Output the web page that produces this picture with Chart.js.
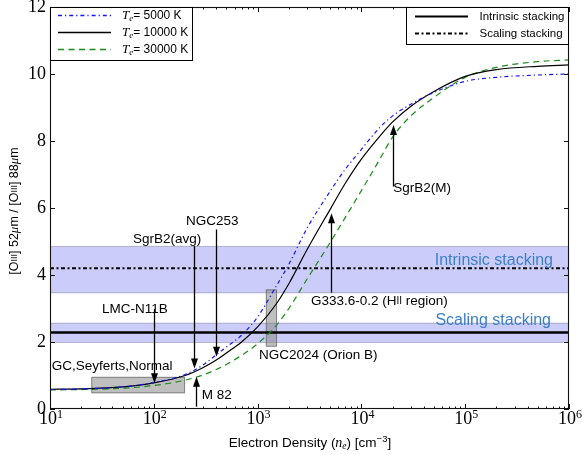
<!DOCTYPE html>
<html>
<head>
<meta charset="utf-8">
<script src="https://cdn.jsdelivr.net/npm/chart.js@4.4.0/dist/chart.umd.min.js"></script>
<style>
  html, body { margin: 0; padding: 0; background: #fff; }
  #wrap { width: 582px; height: 455px; }
</style>
</head>
<body>
<div id="wrap"><canvas id="chart" width="582" height="455"></canvas></div>
<script>
// Electron density grid (cm^-3) for the model curves
const density     = [10, 20, 50, 100, 200, 300, 400, 500, 700, 1000, 1500, 2000, 3000, 5000, 7000, 1e4, 1.5e4, 2e4, 3e4, 5e4, 1e5, 2e5, 5e5, 1e6];
// [OIII] 52/88 line ratio for three electron temperatures
const ratioT5000  = [0.58, 0.60, 0.66, 0.79, 1.03, 1.32, 1.62, 1.85, 2.20, 2.75, 3.65, 4.32, 5.40, 6.50, 7.16, 7.75, 8.40, 8.75, 9.10, 9.45, 9.78, 9.90, 9.97, 10.00];
const ratioT10000 = [0.59, 0.60, 0.66, 0.78, 1.00, 1.24, 1.46, 1.67, 2.00, 2.45, 3.12, 3.74, 4.76, 5.96, 6.74, 7.46, 8.14, 8.57, 9.04, 9.48, 9.93, 10.13, 10.23, 10.27];
const ratioT30000 = [0.57, 0.58, 0.62, 0.70, 0.86, 1.02, 1.18, 1.33, 1.60, 1.95, 2.48, 3.00, 3.88, 4.97, 5.72, 6.52, 7.45, 8.12, 8.75, 9.30, 9.90, 10.20, 10.37, 10.42];
const curveLabels = ['5000 K', '10000 K', '30000 K'];

// stacked measurements: line level and band limits
const stackNames = ['Intrinsic stacking', 'Scaling stacking'];
const stackLevel = [4.20, 2.28];
const stackLow   = [3.45, 1.97];
const stackHigh  = [4.87, 2.58];

// shaded source ranges
const boxNames   = ['GC,Seyferts,Normal', 'NGC2024 (Orion B)'];
const boxDensLo  = [25, 1200];
const boxDensHi  = [200, 1540];
const boxRatioLo = [0.47, 1.86];
const boxRatioHi = [0.96, 3.57];

// individual sources marked with arrows
const arrowNames   = ['LMC-N11B', 'SgrB2(avg)', 'NGC253', 'M 82', 'G333.6-0.2 (HII region)', 'SgrB2(M)'];
const arrowDensity = [100, 245, 400, 254, 5090, 20300];
const arrowFrom    = [2.98, 4.87, 5.36, 0.07, 3.47, 6.64];
const arrowTo      = [0.77, 1.21, 1.56, 0.96, 5.84, 8.48];

const xTicks = [10, 100, 1000, 1e4, 1e5, 1e6];
const yTicks = [0, 2, 4, 6, 8, 10, 12];

const sans = s => s + 'px "Liberation Sans", Arial, sans-serif';
const serif = s => s + 'px "Liberation Serif", "Times New Roman", serif';
const iserif = s => 'italic ' + serif(s);

const curveColors = ['#1414ff', '#000000', '#1a8a1a'];
const curveDashes = [[4, 3, 1.2, 3], [], [6, 4.5]];
const bandFill = 'rgba(0, 0, 235, 0.2)';
const bandText = '#3c80c6';

function drawRich(ctx, parts, x, y, align) {
  let w = 0;
  parts.forEach(p => { ctx.font = p[1]; w += ctx.measureText(p[0]).width; });
  let cx = align === 'center' ? x - w / 2 : align === 'right' ? x - w : x;
  ctx.textAlign = 'left';
  ctx.textBaseline = 'middle';
  parts.forEach(p => {
    ctx.font = p[1];
    ctx.fillText(p[0], cx, y + (p[2] || 0));
    cx += ctx.measureText(p[0]).width;
  });
}

function arrowHead(ctx, x, y, dir) {
  // dir: +1 pointing down, -1 pointing up
  ctx.beginPath();
  ctx.moveTo(x, y);
  ctx.lineTo(x - 3.5, y - dir * 10);
  ctx.lineTo(x + 3.5, y - dir * 10);
  ctx.closePath();
  ctx.fill();
}

// bands and gray boxes under the curves
const underlay = {
  id: 'underlay',
  beforeDatasetsDraw(chart) {
    const { ctx, chartArea: a, scales: { x, y } } = chart;
    ctx.save();
    ctx.beginPath();
    ctx.rect(a.left, a.top, a.right - a.left, a.bottom - a.top);
    ctx.clip();
    stackLevel.forEach((v, i) => {
      const y1 = y.getPixelForValue(stackHigh[i]);
      const y2 = y.getPixelForValue(stackLow[i]);
      ctx.fillStyle = bandFill;
      ctx.fillRect(a.left, y1, a.right - a.left, y2 - y1);
      ctx.strokeStyle = 'rgba(150,150,150,0.45)';
      ctx.lineWidth = 1;
      ctx.beginPath();
      ctx.moveTo(a.left, Math.round(y1) + 0.5); ctx.lineTo(a.right, Math.round(y1) + 0.5);
      ctx.moveTo(a.left, Math.round(y2) - 0.5); ctx.lineTo(a.right, Math.round(y2) - 0.5);
      ctx.stroke();
    });
    boxNames.forEach((n, i) => {
      const x1 = x.getPixelForValue(boxDensLo[i]);
      const x2 = x.getPixelForValue(boxDensHi[i]);
      const y1 = y.getPixelForValue(boxRatioHi[i]);
      const y2 = y.getPixelForValue(boxRatioLo[i]);
      ctx.fillStyle = 'rgba(128,128,128,0.5)';
      ctx.fillRect(x1, y1, x2 - x1, y2 - y1);
      ctx.strokeStyle = 'rgba(90,90,90,0.6)';
      ctx.strokeRect(x1 + 0.5, y1 + 0.5, x2 - x1 - 1, y2 - y1 - 1);
    });
    ctx.restore();
  }
};

// text anchors (data coords) for the annotation labels
const arrowTextPos = [
  { x: 100, y: 2.98, align: 'center', dx: -19 },
  { x: 245, y: 5.07, align: 'center', dx: -27 },
  { x: 400, y: 5.61, align: 'center', dx: -4 },
  { x: 254, y: 0.42, align: 'left', dx: 6 },
  { x: 5090, y: 3.22, align: 'left', dx: -20 },
  { x: 20300, y: 6.60, align: 'left', dx: 0 }
];

const overlay = {
  id: 'overlay',
  afterDraw(chart) {
    const { ctx, chartArea: a, scales: { x, y } } = chart;
    ctx.save();

    // arrows
    ctx.strokeStyle = '#000';
    ctx.fillStyle = '#000';
    ctx.lineWidth = 1.3;
    arrowNames.forEach((n, i) => {
      const px = Math.round(x.getPixelForValue(arrowDensity[i])) + 0.5;
      const y0 = y.getPixelForValue(arrowFrom[i]);
      const y1 = y.getPixelForValue(arrowTo[i]);
      const dir = y1 > y0 ? 1 : -1;
      ctx.beginPath();
      ctx.moveTo(px, y0);
      ctx.lineTo(px, y1 - dir * 9);
      ctx.stroke();
      arrowHead(ctx, px, y1, dir);
    });

    // annotation labels
    ctx.fillStyle = '#000';
    arrowNames.forEach((n, i) => {
      const t = arrowTextPos[i];
      const tx = x.getPixelForValue(t.x) + t.dx;
      const ty = y.getPixelForValue(t.y);
      if (i === 4) {
        drawRich(ctx, [['G333.6-0.2 (H', sans(13.5)], ['II', sans(10)], [' region)', sans(13.5)]], tx, ty, 'left');
      } else {
        drawRich(ctx, [[n, sans(13.5)]], tx, ty, t.align);
      }
    });
    drawRich(ctx, [[boxNames[0], sans(13.5)]], x.getPixelForValue(10.4), y.getPixelForValue(1.28), 'left');
    drawRich(ctx, [[boxNames[1], sans(13.5)]], x.getPixelForValue(1030), y.getPixelForValue(1.61), 'left');

    // band labels
    ctx.fillStyle = bandText;
    drawRich(ctx, [[stackNames[0], sans(16)]], a.right - 16, y.getPixelForValue(4.43), 'right');
    drawRich(ctx, [[stackNames[1], sans(16)]], a.right - 18, y.getPixelForValue(2.64), 'right');

    // frame
    ctx.strokeStyle = '#111';
    ctx.lineWidth = 1.1;
    ctx.strokeRect(a.left + 0.5, a.top + 0.5, a.right - a.left - 1, a.bottom - a.top - 1);

    // inward ticks
    ctx.lineWidth = 1;
    ctx.beginPath();
    for (let k = 1; k <= 6; k++) {
      const base = Math.pow(10, k);
      const major = Math.round(x.getPixelForValue(base)) + 0.5;
      ctx.moveTo(major, a.bottom); ctx.lineTo(major, a.bottom - 5);
      ctx.moveTo(major, a.top); ctx.lineTo(major, a.top + 5);
      if (k < 6) {
        for (let m = 2; m <= 9; m++) {
          const p = Math.round(x.getPixelForValue(m * base)) + 0.5;
          ctx.moveTo(p, a.bottom); ctx.lineTo(p, a.bottom - 2.5);
          ctx.moveTo(p, a.top); ctx.lineTo(p, a.top + 2.5);
        }
      }
    }
    yTicks.forEach(v => {
      const p = Math.round(y.getPixelForValue(v)) + 0.5;
      ctx.moveTo(a.left, p); ctx.lineTo(a.left + 5, p);
      ctx.moveTo(a.right, p); ctx.lineTo(a.right - 5, p);
    });
    ctx.stroke();

    // tick labels
    ctx.fillStyle = '#000';
    xTicks.forEach(v => {
      const e = Math.round(Math.log10(v));
      drawRich(ctx, [['10', serif(18)], [String(e), serif(12), -4]], x.getPixelForValue(v) + 1, a.bottom + 10, 'center');
    });
    yTicks.forEach(v => {
      drawRich(ctx, [[String(v), serif(18)]], a.left - 4, y.getPixelForValue(v), 'right');
    });

    // axis titles
    drawRich(ctx, [
      ['Electron Density (', sans(13.5)], ['n', iserif(14)], ['e', iserif(9.5), 3],
      [') [cm', sans(13.5)], ['\u22123', sans(9.5), -4], [']', sans(13.5)]
    ], 310, 443, 'center');
    ctx.save();
    ctx.translate(15, 211);
    ctx.rotate(-Math.PI / 2);
    drawRich(ctx, [
      ['[O', sans(12.5)], ['III', sans(9)], ['] 52', sans(12.5)], ['\u03BC', iserif(13)],
      ['m / [O', sans(12.5)], ['III', sans(9)], ['] 88', sans(12.5)], ['\u03BC', iserif(13)], ['m', sans(12.5)]
    ], 0, 0, 'center');
    ctx.restore();

    // left legend (temperatures)
    ctx.fillStyle = '#fff';
    ctx.fillRect(a.left + 0.5, a.top + 0.5, 142, 53);
    ctx.strokeStyle = '#000';
    ctx.lineWidth = 1;
    ctx.strokeRect(a.left + 0.5, a.top + 0.5, 142, 53);
    curveLabels.forEach((lab, i) => {
      const ry = a.top + 8.5 + i * 17;
      ctx.strokeStyle = curveColors[i];
      ctx.lineWidth = 1.4;
      ctx.setLineDash(curveDashes[i]);
      ctx.beginPath();
      ctx.moveTo(a.left + 8, ry); ctx.lineTo(a.left + 61, ry);
      ctx.stroke();
      ctx.setLineDash([]);
      ctx.fillStyle = '#000';
      drawRich(ctx, [['T', iserif(13)], ['e', iserif(9), 3], ['= ' + lab, sans(12)]], a.left + 72, ry, 'left');
    });

    // right legend (stacking)
    const lx = 406.5;
    ctx.fillStyle = '#fff';
    ctx.fillRect(lx, a.top + 0.5, a.right - 0.5 - lx, 37);
    ctx.strokeStyle = '#000';
    ctx.lineWidth = 1;
    ctx.strokeRect(lx, a.top + 0.5, a.right - 0.5 - lx, 37);
    [[], [4, 2.5, 2, 2.5]].forEach((dash, i) => {
      const ry = a.top + 9.5 + i * 17;
      ctx.strokeStyle = '#000';
      ctx.lineWidth = 2;
      ctx.setLineDash(dash);
      ctx.beginPath();
      ctx.moveTo(lx + 8.5, ry); ctx.lineTo(lx + 61.5, ry);
      ctx.stroke();
      ctx.setLineDash([]);
      ctx.fillStyle = '#000';
      drawRich(ctx, [[stackNames[i], sans(11.5)]], lx + 73, ry, 'left');
    });

    ctx.restore();
  }
};

const pts = vals => density.map((d, i) => ({ x: d, y: vals[i] }));
const hline = v => [{ x: 10, y: v }, { x: 1e6, y: v }];

new Chart(document.getElementById('chart'), {
  type: 'line',
  data: {
    datasets: [
      { label: curveLabels[0], data: pts(ratioT5000), borderColor: curveColors[0], borderWidth: 1.2, borderDash: curveDashes[0],
        pointRadius: 0, cubicInterpolationMode: 'monotone', fill: false },
      { label: curveLabels[1], data: pts(ratioT10000), borderColor: curveColors[1], borderWidth: 1.2,
        pointRadius: 0, cubicInterpolationMode: 'monotone', fill: false },
      { label: curveLabels[2], data: pts(ratioT30000), borderColor: curveColors[2], borderWidth: 1.2, borderDash: curveDashes[2],
        pointRadius: 0, cubicInterpolationMode: 'monotone', fill: false },
      { label: stackNames[1], data: hline(stackLevel[0]), borderColor: '#000', borderWidth: 2, borderDash: [4, 2.5, 2, 2.5],
        pointRadius: 0, fill: false },
      { label: stackNames[0], data: hline(stackLevel[1]), borderColor: '#000', borderWidth: 2.5,
        pointRadius: 0, fill: false }
    ]
  },
  options: {
    responsive: false,
    animation: false,
    layout: { padding: { left: 0, right: 13, top: 7, bottom: 0 } },
    plugins: { legend: { display: false }, tooltip: { enabled: false } },
    scales: {
      x: {
        type: 'logarithmic', min: 10, max: 1e6,
        grid: { display: false }, border: { display: false }, ticks: { display: false },
        afterFit: s => { s.height = 46; }
      },
      y: {
        min: 0, max: 12,
        grid: { display: false }, border: { display: false }, ticks: { display: false, stepSize: 2 },
        afterFit: s => { s.width = 50; }
      }
    }
  },
  plugins: [underlay, overlay]
});
</script>
</body>
</html>
